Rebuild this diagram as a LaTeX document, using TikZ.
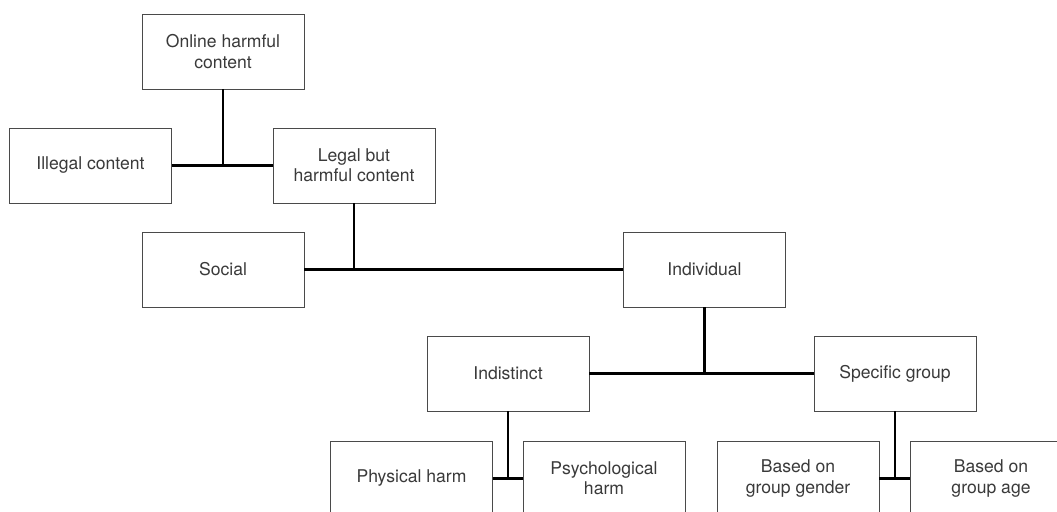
\documentclass[tikz,border=0pt]{standalone}
\usepackage{fontspec}
\setmainfont{TeX Gyre Heros}
\definecolor{boxline}{HTML}{4A4A4A}
\definecolor{boxtext}{HTML}{3A3A3A}
\begin{document}
\begin{tikzpicture}[
		x=0.025cm, y=-0.025cm,
		box/.style={rectangle, draw=boxline, line width=0.6pt, minimum width=4.05cm, minimum height=1.875cm, inner sep=2pt, align=center, text=boxtext, font=\fontsize{12.5}{14.5}\selectfont, fill=white},
		link/.style={line width=1.9pt, black}
	]
	\useasboundingbox (0,0) rectangle (1057,512);

	% Top level
	\node[box] (online) at (223, 51.5) {Online harmful\\content};
	\node[box] (illegal) at (90.5, 165.5) {Illegal content};
	\node[box] (legal) at (354, 165.5) {Legal but\\harmful content};

	% Second level
	\node[box] (social) at (223, 269.5) {Social};
	\node[box] (individual) at (704.5, 269.5) {Individual};

	% Third level
	\node[box] (indistinct) at (508, 373.5) {Indistinct};
	\node[box] (specific) at (895, 373.5) {Specific group};

	% Bottom level
	\node[box] (physical) at (411.5, 478.5) {Physical harm};
	\node[box] (psycho) at (604, 478.5) {Psychological\\harm};
	\node[box] (gender) at (798, 478.5) {Based on\\group gender};
	\node[box] (age) at (991, 478.5) {Based on\\group age};

	% Connections
	\draw[link] (illegal.east) -- (legal.west);
	\draw[link] (online.south) -- (online.south |- illegal.east);
	\draw[link] (social.east) -- (individual.west);
	\draw[link] (legal.south) -- (legal.south |- social.east);
	\draw[link] (indistinct.east) -- (specific.west);
	\draw[link] (individual.south) -- (individual.south |- indistinct.east);
	\draw[link] (physical.east) -- (psycho.west);
	\draw[link] (indistinct.south) -- (indistinct.south |- physical.east);
	\draw[link] (gender.east) -- (age.west);
	\draw[link] (specific.south) -- (specific.south |- gender.east);

\end{tikzpicture}
\end{document}
